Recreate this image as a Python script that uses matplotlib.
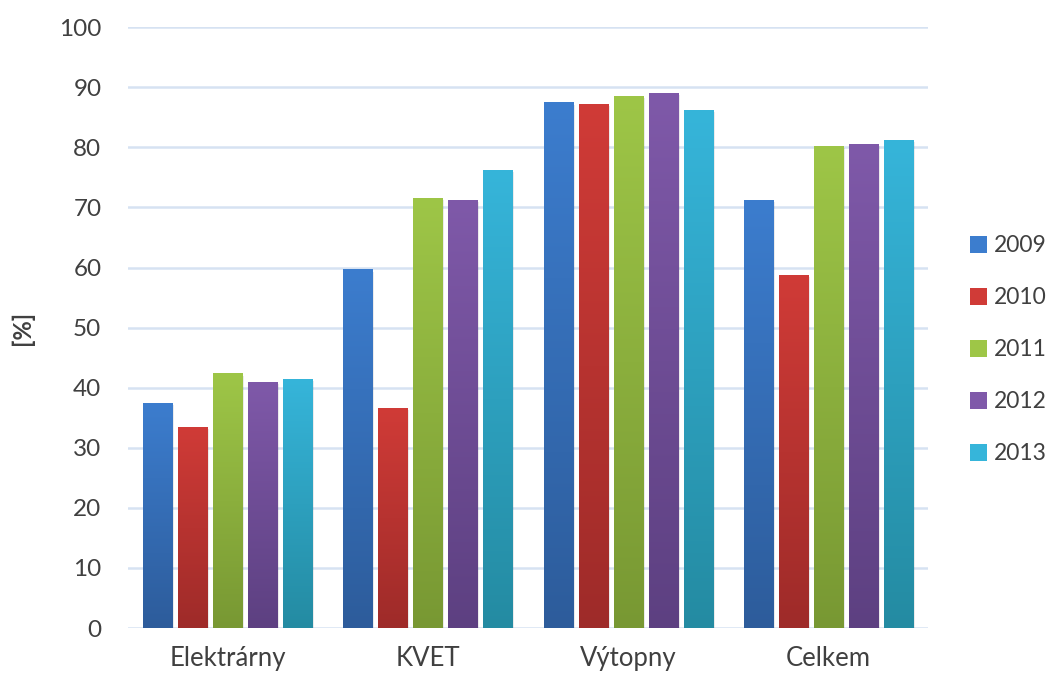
import numpy as np
import matplotlib
matplotlib.use("Agg")
import matplotlib.pyplot as plt
from matplotlib.colors import LinearSegmentedColormap
from matplotlib.patches import Rectangle, Patch

categories = ["Elektrárny", "KVET", "Výtopny", "Celkem"]
years = ["2009", "2010", "2011", "2012", "2013"]
v2009 = [37.4, 59.6, 87.4, 71.2]
v2010 = [33.4, 36.6, 87.2, 58.7]
v2011 = [42.3, 71.5, 88.5, 80.2]
v2012 = [40.9, 71.2, 89.0, 80.5]
v2013 = [41.4, 76.2, 86.2, 81.2]
series = [v2009, v2010, v2011, v2012, v2013]

top_colors = ["#3C7DCE", "#D03B37", "#9EC647", "#7F59A9", "#36B5DA"]
bot_colors = ["#2D5C9B", "#9E2B29", "#789833", "#5D4081", "#248BA2"]

plt.rcParams['font.family'] = ['Lato', 'DejaVu Sans']
fig = plt.figure(figsize=(10.56, 6.79), dpi=100)
ax = fig.add_axes([0.121, 0.075, 0.758, 0.885])

pitch = 0.175
width = 0.145
grad = np.linspace(0, 1, 256).reshape(-1, 1)

for i, (vals, tc, bc) in enumerate(zip(series, top_colors, bot_colors)):
    cmap = LinearSegmentedColormap.from_list(f"g{i}", [bc, tc])
    for j, v in enumerate(vals):
        x0 = j + 0.5 + (i - 2) * pitch - width / 2
        ax.add_patch(Rectangle((x0 + 0.006, -0.4), width + 0.004, v + 0.1,
                               facecolor="#000000", alpha=0.08, edgecolor="none", zorder=2))
        ax.imshow(grad, extent=(x0, x0 + width, 0, v), origin="lower", cmap=cmap,
                  aspect="auto", zorder=3, interpolation="bicubic")

ax.set_xlim(0, 4)
ax.set_ylim(0, 100)
ax.set_yticks(np.arange(0, 101, 10))
ax.set_xticks(np.arange(4) + 0.5)
ax.set_xticklabels(categories)
ax.grid(axis="y", color="#D6E2F2", linewidth=1.8, zorder=0)
ax.set_axisbelow(True)
for s in ax.spines.values():
    s.set_visible(False)
ax.tick_params(axis="y", length=0, labelsize=17.5, colors="#404040", pad=19)
ax.tick_params(axis="x", length=0, labelsize=18.5, colors="#404040", pad=13)
ax.set_ylabel("[%]", fontsize=17, fontweight="bold", color="#404040", labelpad=18)

handles = [Patch(facecolor=tc, edgecolor="none", label=y) for tc, y in zip(top_colors, years)]
leg = ax.legend(handles=handles, loc="center left", bbox_to_anchor=(1.052, 0.463),
                frameon=False, fontsize=16.5, labelspacing=1.35, handlelength=0.75,
                handleheight=0.75, handletextpad=0.3, borderaxespad=0, borderpad=0)
for t in leg.get_texts():
    t.set_color("#404040")

fig.savefig("out.png", dpi=100)
